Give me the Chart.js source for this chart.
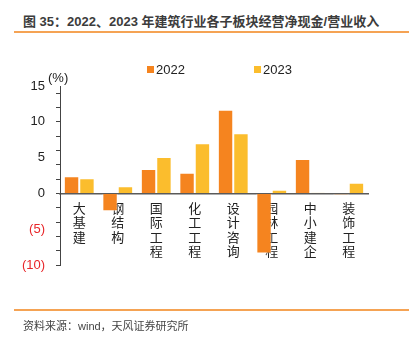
<!DOCTYPE html>
<html>
<head>
<meta charset="utf-8">
<script src="https://cdn.jsdelivr.net/npm/chart.js@4"></script>
<style>
  html, body { margin: 0; padding: 0; background: #fff; }
  body { width: 409px; height: 338px; position: relative; overflow: hidden; font-family: "Liberation Sans", Arial, "Noto Sans CJK SC", sans-serif; }
  .title { position: absolute; left: 23px; top: 11px; font-size: 13px; font-weight: bold; color: #3c3c3c; font-family: "Liberation Sans", "Noto Sans CJK SC", sans-serif; white-space: nowrap; }
  .rule { position: absolute; left: 14px; right: 0; height: 2px; background: #f5a354; }
  .source { position: absolute; left: 23px; top: 317px; font-size: 11px; color: #444; font-family: "Liberation Sans", "Noto Sans CJK SC", sans-serif; white-space: nowrap; }
  .chart-box { position: absolute; left: 0; top: 41px; width: 409px; height: 270px; }
</style>
</head>
<body>
<div class="title">图 35：2022、2023 年建筑行业各子板块经营净现金/营业收入</div>
<div class="rule" style="top:31px"></div>
<div class="chart-box"><canvas id="cash-chart" width="409" height="270"></canvas></div>
<div class="rule" style="top:309px"></div>
<div class="source">资料来源：wind，天风证券研究所</div>

<script>
const categories = ['大基建', '钢结构', '国际工程', '化工工程', '设计咨询', '园林工程', '中小建企', '装饰工程'];
const seriesNames = ['2022', '2023'];
const values2022 = [2.4, -2.5, 3.4, 2.9, 11.7, -8.4, 4.8, -0.2];
const values2023 = [2.1, 1.0, 5.1, 7.0, 8.4, 0.5, 0.1, 1.5];
const yLabelStep = 5;

const colors = ['#f5841f', '#fbbd2d'];
const fontFamily = '"Liberation Sans", Arial, "Noto Sans CJK SC", sans-serif';

// legend and unit label drawn by hand so the two entries can sit far apart
const extrasPlugin = {
  id: 'extras',
  afterDraw(chart) {
    const { ctx } = chart;
    const y = chart.scales.y;
    ctx.save();
    ctx.font = '13px ' + fontFamily;
    ctx.fillStyle = '#222';
    ctx.textBaseline = 'middle';
    ctx.textAlign = 'left';
    ctx.fillText('(%)', y.right - 12, y.top - 8);

    const starts = [147, 254];
    chart.data.datasets.forEach((ds, i) => {
      ctx.fillStyle = ds.backgroundColor;
      ctx.fillRect(starts[i], 25, 7, 7);
      ctx.fillStyle = '#222';
      ctx.fillText(ds.label, starts[i] + 9, 29);
    });
    ctx.restore();
  }
};

const chart = new Chart(document.getElementById('cash-chart').getContext('2d'), {
  type: 'bar',
  data: {
    labels: categories.map(c => c.split('')),
    datasets: [
      {
        label: seriesNames[0],
        data: values2022,
        backgroundColor: colors[0],
        borderColor: 'rgba(255,255,255,0.45)',
        borderWidth: 1,
      },
      {
        label: seriesNames[1],
        data: values2023,
        backgroundColor: colors[1],
        borderColor: 'rgba(255,255,255,0.45)',
        borderWidth: 1,
      },
    ],
  },
  options: {
    responsive: false,
    animation: false,
    layout: { padding: { top: 45, bottom: 46, left: 0, right: 41 } },
    datasets: { bar: { categoryPercentage: 0.8, barPercentage: 1 } },
    plugins: {
      legend: { display: false },
      tooltip: { enabled: false },
    },
    scales: {
      x: {
        position: { y: 0 },
        z: 1,
        grid: { display: false, drawTicks: false },
        border: { color: '#5a5a5a', width: 1.5 },
        ticks: {
          autoSkip: false,
          maxRotation: 0,
          minRotation: 0,
          padding: 9,
          color: '#222',
          font: { family: fontFamily, size: 13, lineHeight: 1.1 },
        },
      },
      y: {
        min: -10,
        max: 15,
        afterFit(scale) { scale.width = 60; },
        grid: {
          drawOnChartArea: false,
          tickLength: 4,
          tickColor: ctx => (ctx.tick && ctx.tick.value % 2 === 0 ? '#444' : 'rgba(0,0,0,0)'),
        },
        border: { color: '#444', width: 1 },
        ticks: {
          stepSize: 1,
          autoSkip: false,
          padding: 11,
          color: ctx => (ctx.tick && ctx.tick.value < 0 ? '#e8262a' : '#222'),
          font: { family: fontFamily, size: 13 },
          callback: v => (v % yLabelStep === 0 ? (v < 0 ? '(' + (-v) + ')' : String(v)) : ''),
        },
      },
    },
  },
  plugins: [extrasPlugin],
});
</script>
</body>
</html>
